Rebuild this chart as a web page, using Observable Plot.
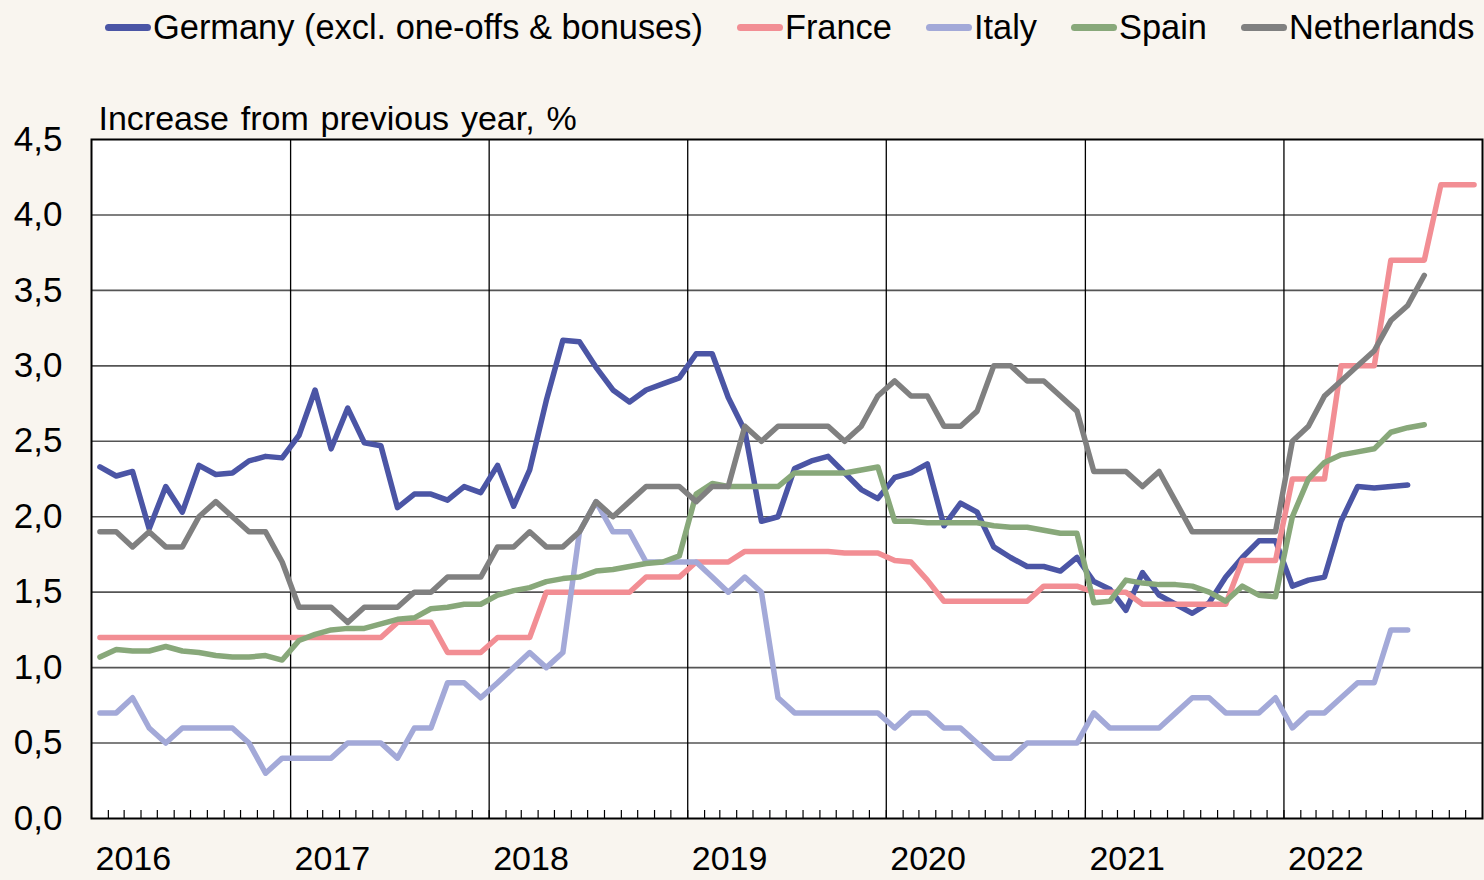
<!DOCTYPE html>
<html><head><meta charset="utf-8">
<script src="https://cdn.jsdelivr.net/npm/d3@7"></script>
<script src="https://cdn.jsdelivr.net/npm/@observablehq/plot@0.6"></script>
<style>
html,body{margin:0;padding:0;background:#f9f5ef;}
body{width:1484px;height:880px;overflow:hidden;position:relative;font-family:"Liberation Sans",Arial,sans-serif;}
#legend{position:absolute;top:0;left:0;display:flex;align-items:center;height:54px;padding-left:105px;gap:34px;font-size:34.4px;line-height:54px;color:#000;white-space:nowrap;}
.item{display:flex;align-items:center;}
.sw{display:inline-block;width:46px;height:7px;border-radius:3.5px;margin-right:2px;}
#chart{position:absolute;top:60px;left:0;}
</style></head><body>
<div id="legend"></div>
<div id="chart"></div>
<script>
const seriesNames = ["Germany (excl. one-offs & bonuses)", "France", "Italy", "Spain", "Netherlands"];
const seriesColors = ["#4b55a5", "#f28e94", "#a3a9d8", "#88a87a", "#808080"];
const subtitle = "Increase from previous year, %";
const startYear = 2016;
const yearTicks = [2016, 2017, 2018, 2019, 2020, 2021, 2022];
const yTicks = [0, 0.5, 1, 1.5, 2, 2.5, 3, 3.5, 4, 4.5];

// monthly values, starting January 2016
const germany = [
  2.33, 2.27, 2.30, 1.92, 2.20, 2.03, 2.34, 2.28, 2.29, 2.37, 2.40, 2.39,
  2.54, 2.84, 2.45, 2.72, 2.49, 2.47, 2.06, 2.15, 2.15, 2.11, 2.20, 2.16,
  2.34, 2.07, 2.31, 2.77, 3.17, 3.16, 2.99, 2.84, 2.76, 2.84, 2.88, 2.92,
  3.08, 3.08, 2.79, 2.57, 1.97, 2.00, 2.32, 2.37, 2.40, 2.29, 2.18, 2.12,
  2.26, 2.29, 2.35, 1.94, 2.09, 2.03, 1.80, 1.73, 1.67, 1.67, 1.64, 1.73,
  1.57, 1.52, 1.38, 1.63, 1.48, 1.42, 1.36, 1.43, 1.60, 1.73, 1.84, 1.84,
  1.54, 1.58, 1.60, 1.97, 2.20, 2.19, 2.20, 2.21
];
const france = [
  1.2, 1.2, 1.2, 1.2, 1.2, 1.2, 1.2, 1.2, 1.2, 1.2, 1.2, 1.2,
  1.2, 1.2, 1.2, 1.2, 1.2, 1.2, 1.3, 1.3, 1.3, 1.1, 1.1, 1.1,
  1.2, 1.2, 1.2, 1.5, 1.5, 1.5, 1.5, 1.5, 1.5, 1.6, 1.6, 1.6,
  1.7, 1.7, 1.7, 1.77, 1.77, 1.77, 1.77, 1.77, 1.77, 1.76, 1.76, 1.76,
  1.71, 1.70, 1.58, 1.44, 1.44, 1.44, 1.44, 1.44, 1.44, 1.54, 1.54, 1.54,
  1.5, 1.5, 1.5, 1.42, 1.42, 1.42, 1.42, 1.42, 1.42, 1.71, 1.71, 1.71,
  2.25, 2.25, 2.25, 3.0, 3.0, 3.0, 3.7, 3.7, 3.7, 4.2, 4.2, 4.2
];
const italy = [
  0.7, 0.7, 0.8, 0.6, 0.5, 0.6, 0.6, 0.6, 0.6, 0.5, 0.3, 0.4,
  0.4, 0.4, 0.4, 0.5, 0.5, 0.5, 0.4, 0.6, 0.6, 0.9, 0.9, 0.8,
  0.9, 1.0, 1.1, 1.0, 1.1, 1.9, 2.1, 1.9, 1.9, 1.7, 1.7, 1.7,
  1.7, 1.6, 1.5, 1.6, 1.5, 0.8, 0.7, 0.7, 0.7, 0.7, 0.7, 0.7,
  0.6, 0.7, 0.7, 0.6, 0.6, 0.5, 0.4, 0.4, 0.5, 0.5, 0.5, 0.5,
  0.7, 0.6, 0.6, 0.6, 0.6, 0.7, 0.8, 0.8, 0.7, 0.7, 0.7, 0.8,
  0.6, 0.7, 0.7, 0.8, 0.9, 0.9, 1.25, 1.25
];
const spain = [
  1.07, 1.12, 1.11, 1.11, 1.14, 1.11, 1.10, 1.08, 1.07, 1.07, 1.08, 1.05,
  1.18, 1.22, 1.25, 1.26, 1.26, 1.29, 1.32, 1.33, 1.39, 1.40, 1.42, 1.42,
  1.48, 1.51, 1.53, 1.57, 1.59, 1.60, 1.64, 1.65, 1.67, 1.69, 1.70, 1.74,
  2.15, 2.22, 2.20, 2.20, 2.20, 2.20, 2.29, 2.29, 2.29, 2.29, 2.31, 2.33,
  1.97, 1.97, 1.96, 1.96, 1.96, 1.96, 1.94, 1.93, 1.93, 1.91, 1.89, 1.89,
  1.43, 1.44, 1.58, 1.56, 1.55, 1.55, 1.54, 1.50, 1.44, 1.54, 1.48, 1.47,
  2.00, 2.25, 2.36, 2.41, 2.43, 2.45, 2.56, 2.59, 2.61
];
const netherlands = [
  1.9, 1.9, 1.8, 1.9, 1.8, 1.8, 2.0, 2.1, 2.0, 1.9, 1.9, 1.7,
  1.4, 1.4, 1.4, 1.3, 1.4, 1.4, 1.4, 1.5, 1.5, 1.6, 1.6, 1.6,
  1.8, 1.8, 1.9, 1.8, 1.8, 1.9, 2.1, 2.0, 2.1, 2.2, 2.2, 2.2,
  2.1, 2.2, 2.2, 2.6, 2.5, 2.6, 2.6, 2.6, 2.6, 2.5, 2.6, 2.8,
  2.9, 2.8, 2.8, 2.6, 2.6, 2.7, 3.0, 3.0, 2.9, 2.9, 2.8, 2.7,
  2.3, 2.3, 2.3, 2.2, 2.3, 2.1, 1.9, 1.9, 1.9, 1.9, 1.9, 1.9,
  2.5, 2.6, 2.8, 2.9, 3.0, 3.1, 3.3, 3.4, 3.6
];
const seriesValues = [germany, france, italy, spain, netherlands];

function midMonth(i) {
  const a = Date.UTC(startYear, i, 1), b = Date.UTC(startYear, i + 1, 1);
  return new Date((a + b) / 2);
}
const table = [];
seriesValues.forEach((vals, s) => vals.forEach((v, i) => table.push({series: seriesNames[s], date: midMonth(i), value: v})));

// legend
const legend = document.getElementById("legend");
seriesNames.forEach((name, i) => {
  const item = document.createElement("div");
  item.className = "item";
  const sw = document.createElement("span");
  sw.className = "sw";
  sw.style.background = seriesColors[i];
  const label = document.createElement("span");
  label.textContent = name;
  item.appendChild(sw); item.appendChild(label);
  legend.appendChild(item);
});

const W = 1484, H = 820, mT = 79, mB = 62, mL = 91, mR = 2;
const years = yearTicks.map(y => new Date(Date.UTC(y, 0, 1)));
const xStart = new Date(Date.UTC(yearTicks[0], 0, 1));
const xEnd = new Date(Date.UTC(yearTicks[yearTicks.length - 1] + 1, 0, 1));
const months = d3.utcMonths(xStart, xEnd);

const plot = Plot.plot({
  width: W, height: H, marginTop: mT, marginBottom: mB, marginLeft: mL, marginRight: mR,
  style: {background: "transparent", fontFamily: "Liberation Sans, Arial, sans-serif", color: "#000"},
  x: {type: "utc", domain: [xStart, xEnd]},
  y: {domain: [yTicks[0], yTicks[yTicks.length - 1]]},
  color: {domain: seriesNames, range: seriesColors},
  marks: [
    Plot.frame({fill: "white", stroke: "none"}),
    Plot.ruleY(yTicks.slice(1, -1), {stroke: "#555", strokeWidth: 1.6}),
    Plot.ruleX(years.slice(1), {stroke: "#000", strokeWidth: 1.3}),
    Plot.ruleX(months, {stroke: "#000", strokeWidth: 1.2, insetTop: H - mT - mB - 8}),
    Plot.line(table, {x: "date", y: "value", z: "series", stroke: "series", strokeWidth: 5.5, strokeLinecap: "round", strokeLinejoin: "round"}),
    Plot.frame({stroke: "#000", strokeWidth: 2}),
    Plot.axisY({ticks: yTicks, tickSize: 0, tickPadding: 29, fontSize: 35, label: null, tickFormat: d => d.toFixed(1).replace(".", ",")}),
    Plot.axisX({ticks: years, tickSize: 0, tickPadding: 27, fontSize: 34, textAnchor: "start", dx: 4, label: null, tickFormat: d3.utcFormat("%Y")}),
    Plot.text([subtitle], {text: d => d, frameAnchor: "top-left", textAnchor: "start", lineAnchor: "bottom", dx: 7, dy: -10, fontSize: 34})
  ]
});
plot.querySelectorAll("text").forEach(t => { if (t.textContent === subtitle) t.style.wordSpacing = "2.4px"; });
document.getElementById("chart").appendChild(plot);
</script></body></html>
